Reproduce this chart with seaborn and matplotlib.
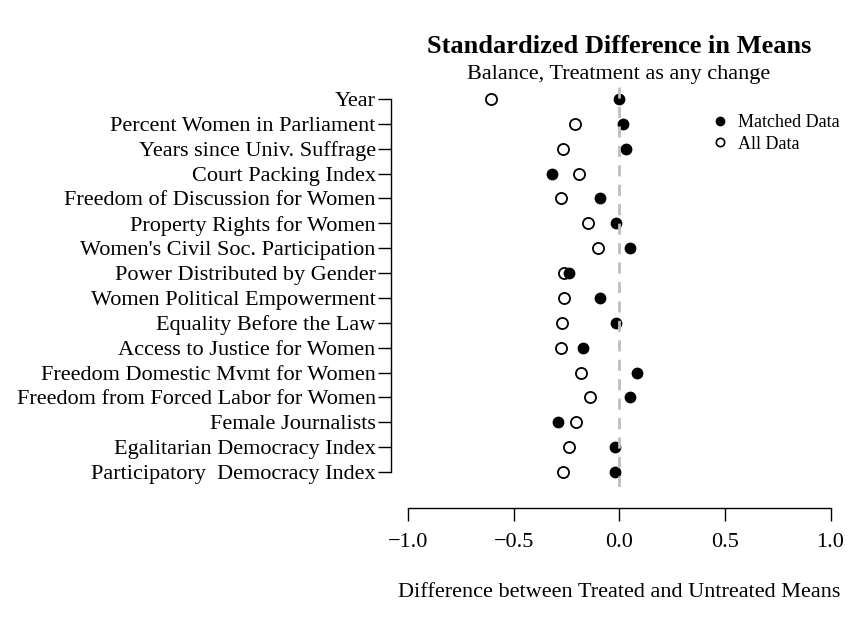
import matplotlib
matplotlib.use('Agg')
import matplotlib.pyplot as plt
from matplotlib.lines import Line2D
import seaborn as sns
import pandas as pd

# covariates, top to bottom
covariates = ['Year', 'Percent Women in Parliament', 'Years since Univ. Suffrage',
              'Court Packing Index', 'Freedom of Discussion for Women',
              'Property Rights for Women', "Women's Civil Soc. Participation",
              'Power Distributed by Gender', 'Women Political Empowerment',
              'Equality Before the Law', 'Access to Justice for Women',
              'Freedom Domestic Mvmt for Women', 'Freedom from Forced Labor for Women',
              'Female Journalists', 'Egalitarian Democracy Index',
              'Participatory  Democracy Index']

# standardized differences
all_data = [-0.609, -0.208, -0.266, -0.192, -0.274, -0.146, -0.099, -0.263,
            -0.260, -0.271, -0.274, -0.181, -0.136, -0.206, -0.238, -0.268]
matched = [0.000, 0.020, 0.034, -0.320, -0.091, -0.017, 0.053, -0.239,
           -0.092, -0.013, -0.173, 0.086, 0.053, -0.290, -0.021, -0.020]

x_ticks = [-1.0, -0.5, 0.0, 0.5, 1.0]

df = pd.DataFrame({'Covariate': covariates, 'All': all_data, 'Matched': matched})

sns.set_style('white')
plt.rcParams['font.family'] = ['Liberation Serif', 'DejaVu Serif']
plt.rcParams['axes.unicode_minus'] = True
plt.rcParams['text.color'] = 'black'

fig = plt.figure(figsize=(8.48, 6.24), dpi=100)
ax = fig.add_axes([0.4611, 0.2196, 0.5382, 0.6458])

sns.stripplot(data=df, x='All', y='Covariate', order=covariates, orient='h',
              jitter=False, color='white', edgecolor='black', linewidth=1.3,
              size=8, ax=ax, zorder=2)
sns.stripplot(data=df, x='Matched', y='Covariate', order=covariates, orient='h',
              jitter=False, color='black', edgecolor='black', linewidth=0,
              size=8.5, ax=ax, zorder=3)

# reference line at zero
ax.axvline(0, color='#BEBEBE', lw=2, ls=(0, (4, 3)), zorder=4)

ax.set_xlim(-1.08, 1.08)
ax.set_ylim(len(covariates) - 0.4, -0.6)
ax.set_xticks(x_ticks)
ax.set_xticklabels([f'{t:.1f}'.replace('-', '\u2212') for t in x_ticks])
ax.set_xlabel('')
ax.set_ylabel('')

for s in ['top', 'right']:
    ax.spines[s].set_visible(False)
ax.spines['left'].set_bounds(0, len(covariates) - 1)
ax.spines['bottom'].set_bounds(-1, 1)
ax.spines['bottom'].set_position(('outward', 15))
for s in ['left', 'bottom']:
    ax.spines[s].set_color('black')
    ax.spines[s].set_linewidth(1.0)
ax.tick_params(axis='both', which='major', direction='out', length=9.5,
               width=1.0, color='black', labelsize=16, labelcolor='black',
               bottom=True, left=True)
ax.tick_params(axis='y', pad=1.5)
ax.tick_params(axis='x', pad=8.5)
ax.grid(False)

fig.text(0.730, 0.9247, 'Standardized Difference in Means', ha='center', va='center',
         fontsize=19, fontweight='bold', color='black')
fig.text(0.730, 0.8814, 'Balance, Treatment as any change', ha='center', va='center',
         fontsize=16, color='black')
fig.text(0.730, 0.0497, 'Difference between Treated and Untreated Means',
         ha='center', va='center', fontsize=16, color='black')

handles = [Line2D([], [], ls='none', marker='o', color='black', markersize=6),
           Line2D([], [], ls='none', marker='o', markerfacecolor='white',
                  markeredgecolor='black', markeredgewidth=1.2, markersize=6)]
fig.legend(handles, ['Matched Data', 'All Data'], loc='upper left',
           bbox_to_anchor=(0.8384, 0.8173), frameon=False, fontsize=13,
           handlelength=1.0, handletextpad=0.5, labelspacing=0.25,
           borderaxespad=0, borderpad=0, labelcolor='black')

fig.savefig('out.png', dpi=100)
